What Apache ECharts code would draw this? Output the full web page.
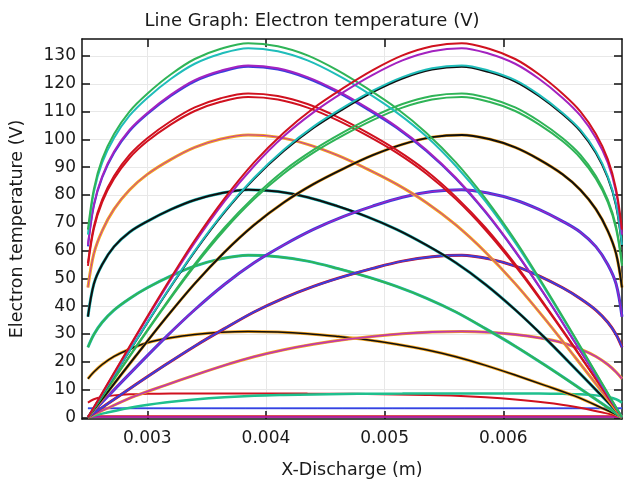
<!DOCTYPE html>
<html>
<head>
<meta charset="utf-8">
<script src="https://cdn.jsdelivr.net/npm/echarts@6/dist/echarts.min.js"></script>
<style>html,body{margin:0;padding:0;background:#fff}#c{width:624px;height:484px}</style>
</head>
<body>
<div id="c"></div>
<script>
// ---- tick labels ----
const xTicks = [0.003, 0.004, 0.005, 0.006];
const yTicks = [0, 10, 20, 30, 40, 50, 60, 70, 80, 90, 100, 110, 120, 130];

// ---- x positions (m) ----
const xLeft  = [0.0025, 0.00255, 0.00262, 0.00272, 0.00285, 0.003, 0.0032, 0.0034, 0.00362, 0.00385, 0.0041, 0.00435, 0.0046, 0.00485, 0.0051, 0.00535, 0.0056, 0.00585, 0.0061, 0.00635, 0.0066, 0.00685, 0.007];
const xRight = [0.0025, 0.00265, 0.0029, 0.00315, 0.0034, 0.00365, 0.0039, 0.00415, 0.0044, 0.00465, 0.0049, 0.00515, 0.0054, 0.00565, 0.00588, 0.0061, 0.0063, 0.0065, 0.00665, 0.00678, 0.00688, 0.00695, 0.007];
const xFlat  = [0.0025, 0.007];

// ---- left-peaked profiles (V) ----
const L135 = [67.5, 82.1, 92.9, 101.9, 110, 116.4, 123.4, 128.9, 132.6, 134.6, 133.5, 130.2, 124.9, 118.4, 111.2, 102.4, 91.7, 78.7, 63.7, 46.8, 29.1, 10.9, 0];
const L133 = [65.7, 81, 91.6, 100.5, 108.5, 114.9, 121.8, 127.2, 130.8, 132.8, 131.7, 128.4, 123.2, 116.9, 109.7, 101.1, 90.4, 77.7, 62.8, 46.2, 28.7, 10.8, 0];
const L127 = [62, 76.6, 86.7, 95.6, 103.4, 109.5, 116.1, 121.3, 124.7, 126.6, 125.6, 122.4, 117.5, 111.4, 104.6, 96.3, 86.2, 74.1, 59.9, 44.1, 27.3, 10.3, 0];
const L126 = [61.5, 76.1, 86.2, 95.1, 102.9, 109, 115.6, 120.8, 124.2, 126.1, 125.1, 121.9, 117, 110.9, 104.1, 95.8, 85.8, 73.7, 59.6, 43.9, 27.2, 10.2, 0];
const L116 = [55.5, 68.7, 78.3, 86.8, 94.4, 100.4, 106.6, 111.5, 114.8, 116.5, 115.6, 112.7, 108.1, 102.5, 96.2, 88.7, 79.3, 68.2, 55.1, 40.5, 25.2, 9.4, 0];
const L115 = [54.5, 67.8, 77.4, 85.8, 93.3, 99.3, 105.4, 110.2, 113.5, 115.2, 114.3, 111.4, 106.9, 101.4, 95.2, 87.7, 78.5, 67.4, 54.5, 40.1, 24.9, 9.3, 0];
const L102 = [46.7, 58.9, 67.1, 74.9, 81.8, 87.4, 92.8, 97.1, 100.1, 101.6, 100.8, 98.2, 94.3, 89.4, 83.9, 77.3, 69.2, 59.4, 48.1, 35.4, 21.9, 8.2, 0];
const L82  = [36.2, 48, 55, 61.4, 66.6, 70.5, 74.8, 78.2, 80.6, 81.9, 81.2, 79.2, 76, 72.2, 67.6, 62, 55.6, 47.8, 38.7, 28.6, 17.8, 6.8, 0];
const L58  = [25.2, 29.8, 34.2, 38.6, 42.7, 46.6, 50.9, 54.4, 57, 58.3, 57.8, 56.2, 53.6, 50.6, 47.1, 42.9, 37.9, 31.9, 25.6, 18.8, 11.7, 4.4, 0];
const L31  = [13.9, 16.3, 19, 21.9, 24.5, 26.8, 28.6, 29.8, 30.6, 30.9, 30.7, 30.1, 29.1, 27.9, 26.3, 24.3, 21.8, 18.7, 15.2, 11.5, 7.7, 3, 0];
const L8   = [5.3, 6.5, 7.3, 7.9, 8.3, 8.45, 8.55, 8.6, 8.6, 8.6, 8.6, 8.55, 8.5, 8.4, 8.25, 8.05, 7.75, 7.2, 6.4, 5.3, 3.8, 1.6, 0];

// ---- right-peaked profiles (V) ----
const R135 = [0, 10.9, 29.1, 46.8, 63.7, 78.7, 91.7, 102.4, 111.2, 118.4, 124.9, 130.2, 133.5, 134.6, 132.6, 128.9, 123.4, 116.4, 110, 101.9, 92.9, 82.1, 67.5];
const R133 = [0, 10.8, 28.7, 46.2, 62.8, 77.7, 90.4, 101.1, 109.7, 116.9, 123.2, 128.4, 131.7, 132.8, 130.8, 127.2, 121.8, 114.9, 108.5, 100.5, 91.6, 81, 65.7];
const R127 = [0, 10.3, 27.3, 44.1, 59.9, 74.1, 86.2, 96.3, 104.6, 111.4, 117.5, 122.4, 125.6, 126.6, 124.7, 121.3, 116.1, 109.5, 103.4, 95.6, 86.7, 76.6, 62];
const R126 = [0, 10.2, 27.2, 43.9, 59.6, 73.7, 85.8, 95.8, 104.1, 110.9, 117, 121.9, 125.1, 126.1, 124.2, 120.8, 115.6, 109, 102.9, 95.1, 86.2, 76.1, 61.5];
const R116 = [0, 9.4, 25.2, 40.5, 55.1, 68.2, 79.3, 88.7, 96.2, 102.5, 108.1, 112.7, 115.6, 116.5, 114.8, 111.5, 106.6, 100.4, 94.4, 86.8, 78.3, 68.7, 55.5];
const R115 = [0, 9.3, 24.9, 40.1, 54.5, 67.4, 78.5, 87.7, 95.2, 101.4, 106.9, 111.4, 114.3, 115.2, 113.5, 110.2, 105.4, 99.3, 93.3, 85.8, 77.4, 67.8, 54.5];
const R102 = [0, 8.2, 21.9, 35.4, 48.1, 59.4, 69.2, 77.3, 83.9, 89.4, 94.3, 98.2, 100.8, 101.6, 100.1, 97.1, 92.8, 87.4, 81.8, 74.9, 67.1, 58.9, 46.7];
const R82  = [0, 6.8, 17.8, 28.6, 38.7, 47.8, 55.6, 62, 67.6, 72.2, 76, 79.2, 81.2, 81.9, 80.6, 78.2, 74.8, 70.5, 66.6, 61.4, 55, 48, 36.2];
const R58  = [0, 4.4, 11.7, 18.8, 25.6, 31.9, 37.9, 42.9, 47.1, 50.6, 53.6, 56.2, 57.8, 58.3, 57, 54.4, 50.9, 46.6, 42.7, 38.6, 34.2, 29.8, 25.2];
const R31  = [0, 3, 7.7, 11.5, 15.2, 18.7, 21.8, 24.3, 26.3, 27.9, 29.1, 30.1, 30.7, 30.9, 30.6, 29.8, 28.6, 26.8, 24.5, 21.9, 19, 16.3, 13.9];
const R8   = [0, 1.6, 3.8, 5.3, 6.4, 7.2, 7.75, 8.05, 8.25, 8.4, 8.5, 8.55, 8.6, 8.6, 8.6, 8.6, 8.55, 8.45, 8.3, 7.9, 7.3, 6.5, 5.3];

// ---- flat profiles (V) ----
const F3a = [3.3, 3.3];
const F3b = [3.2, 3.2];
const F0a = [0.3, 0.3];
const F0b = [0.1, 0.1];

const C = {
  green: '#2fb457', teal: '#1fbdba', purple: '#a322c0', blue: '#3c3ddc',
  red: '#d0111f', orange: '#f4a41e', magenta: '#c13aa8', black: '#101010',
  sea: '#1fc08e', lblue: '#4466f0'
};

function mk(xs, ys, color, width) {
  return {
    type: 'line', showSymbol: false, smooth: 0.35, silent: true,
    data: xs.map((x, i) => [x, ys[i]]),
    lineStyle: { color: color, width: width }, itemStyle: { color: color }
  };
}

const series = [
  mk(xFlat, F0a, C.red, 2.5), mk(xFlat, F0b, C.purple, 1.5),
  mk(xFlat, F3a, C.lblue, 2), mk(xFlat, F3b, C.blue, 1),
  mk(xLeft, L8, C.red, 2), mk(xRight, R8, C.sea, 2.5),
  mk(xLeft, L31, C.orange, 3), mk(xLeft, L31, C.black, 1.5),
  mk(xRight, R31, C.orange, 3), mk(xRight, R31, C.magenta, 1.8),
  mk(xLeft, L58, C.teal, 3), mk(xLeft, L58, C.green, 2),
  mk(xRight, R58, C.red, 3), mk(xRight, R58, C.blue, 2),
  mk(xLeft, L82, C.teal, 3), mk(xLeft, L82, C.black, 2),
  mk(xRight, R82, C.blue, 3), mk(xRight, R82, C.purple, 1.2),
  mk(xLeft, L102, C.orange, 3), mk(xLeft, L102, C.magenta, 1),
  mk(xRight, R102, C.orange, 3), mk(xRight, R102, C.black, 2),
  mk(xLeft, L116, C.red, 2), mk(xLeft, L115, C.red, 2),
  mk(xRight, R116, C.green, 2), mk(xRight, R115, C.green, 2),
  mk(xLeft, L126, C.blue, 2), mk(xLeft, L127, C.purple, 2),
  mk(xRight, R126, C.black, 2), mk(xRight, R127, C.teal, 2),
  mk(xLeft, L133, C.teal, 2), mk(xLeft, L135, C.green, 2),
  mk(xRight, R133, C.purple, 2), mk(xRight, R135, C.red, 2)
];

const FONT = 'DejaVu Sans';
const axisLineStyle = { show: true, onZero: false, lineStyle: { color: '#111', width: 1.5 } };
const split = { show: true, lineStyle: { color: '#e8e8e8', width: 1 } };

const option = {
  animation: false,
  backgroundColor: '#fff',
  title: {
    text: 'Line Graph: Electron temperature (V)', left: 'center', top: 7,
    textStyle: { fontFamily: FONT, fontSize: 18, fontWeight: 'normal', color: '#1a1a1a' }
  },
  grid: { left: 82, top: 39, width: 540, height: 383, containLabel: false },
  xAxis: [
    {
      type: 'value', min: 0.00245, max: 0.007, position: 'bottom',
      name: 'X-Discharge (m)', nameLocation: 'middle', nameGap: 42,
      nameTextStyle: { fontFamily: FONT, fontSize: 17.5, color: '#1a1a1a' },
      axisLine: axisLineStyle,
      axisTick: { show: true, inside: true, length: 8, customValues: xTicks, lineStyle: { color: '#111', width: 1.5 } },
      axisLabel: { show: true, customValues: xTicks, margin: 11, fontFamily: FONT, fontSize: 17, color: '#1a1a1a',
        formatter: v => v.toFixed(3) },
      splitLine: split
    },
    {
      type: 'value', min: 0.00245, max: 0.007, position: 'top',
      axisLine: axisLineStyle,
      axisTick: { show: true, inside: true, length: 8, customValues: xTicks, lineStyle: { color: '#111', width: 1.5 } },
      axisLabel: { show: false }, splitLine: { show: false }
    }
  ],
  yAxis: [
    {
      type: 'value', min: -0.6, max: 136.1, position: 'left',
      name: 'Electron temperature (V)', nameLocation: 'middle', nameGap: 56, nameRotate: 90,
      nameTextStyle: { fontFamily: FONT, fontSize: 17.5, color: '#1a1a1a' },
      axisLine: axisLineStyle,
      axisTick: { show: true, inside: true, length: 8, customValues: yTicks, lineStyle: { color: '#111', width: 1.5 } },
      axisLabel: { show: true, customValues: yTicks, margin: 6, fontFamily: FONT, fontSize: 17, color: '#1a1a1a' },
      splitLine: split
    },
    {
      type: 'value', min: -0.6, max: 136.1, position: 'right',
      axisLine: axisLineStyle,
      axisTick: { show: true, inside: true, length: 8, customValues: yTicks, lineStyle: { color: '#111', width: 1.5 } },
      axisLabel: { show: false }, splitLine: { show: false }
    }
  ],
  series: series
};

const chart = echarts.init(document.getElementById('c'), null, { renderer: 'canvas' });
chart.setOption(option);
</script>
</body>
</html>
